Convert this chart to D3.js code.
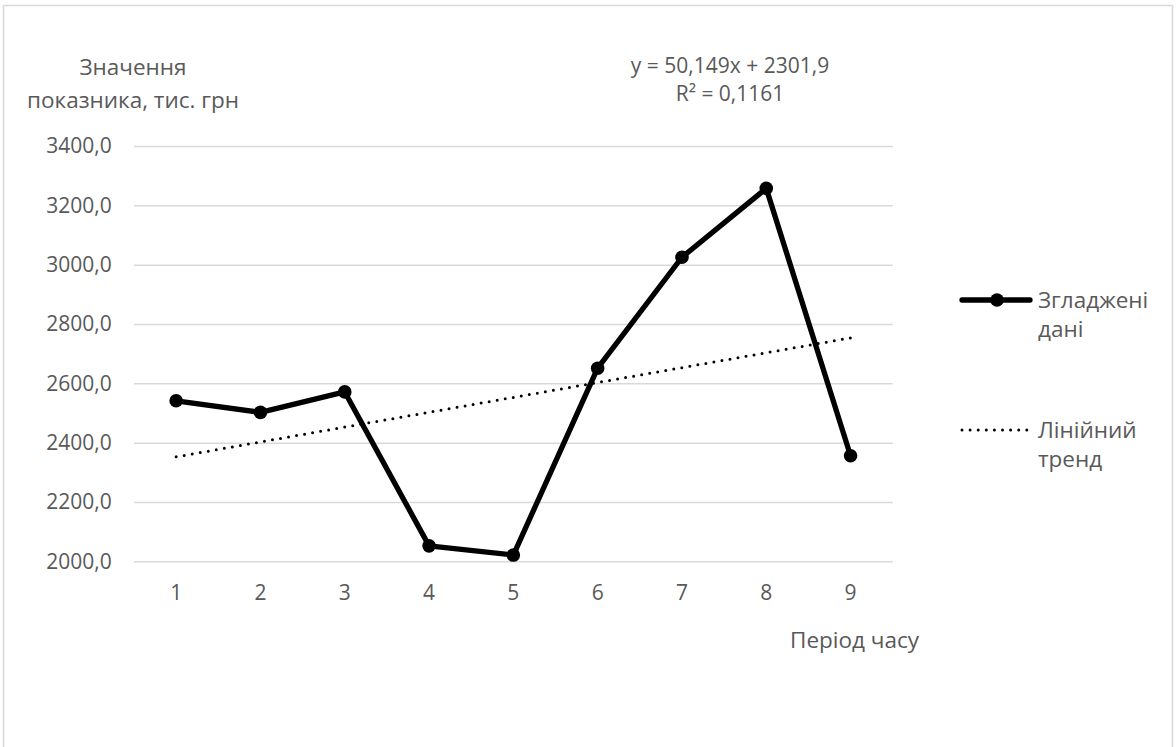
<!DOCTYPE html>
<html>
<head>
<meta charset="utf-8">
<script src="https://cdn.jsdelivr.net/npm/d3@7"></script>
<style>
  html, body { margin: 0; padding: 0; background: #fff; }
  svg text { font-family: "Open Sans", sans-serif; fill: #595959; }
</style>
</head>
<body>
<svg id="chart" width="1176" height="747"></svg>
<script>
// ---- data ----
const periods = [1, 2, 3, 4, 5, 6, 7, 8, 9];
const smoothed = [2541, 2502, 2571, 2052, 2021, 2651, 3025, 3257, 2356];
const yTicks = [2000, 2200, 2400, 2600, 2800, 3000, 3200, 3400];
const trendCoef = [50.149, 2301.9];           // slope, intercept
const trendLabel = ["y = 50,149x + 2301,9", "R² = 0,1161"];
const yTitle = ["Значення", "показника, тис. грн"];
const xTitle = "Період часу";
const legendLabels = [["Згладжені", "дані"], ["Лінійний", "тренд"]];

// ---- layout ----
const W = 1176, H = 747;
const plot = { left: 134, right: 892.7, top: 146, bottom: 561.3 };
const FS_NUM = 21;
const FS_TXT = 22.5;

const svg = d3.select("#chart");

svg.append("rect")
  .attr("x", 3.5).attr("y", 5.5).attr("width", 1169).attr("height", 780)
  .attr("fill", "#fff").attr("stroke", "#d9d9d9").attr("stroke-width", 1.5);

const x = d3.scaleBand().domain(periods).range([plot.left, plot.right]);
const xc = d => x(d) + x.bandwidth() / 2;
const y = d3.scaleLinear().domain([2000, 3400]).range([plot.bottom, plot.top]);

const fmt = v => d3.format(".1f")(v).replace(".", ",");

// gridlines + y labels via axis
const yAxis = d3.axisLeft(y).tickValues(yTicks)
  .tickSize(-(plot.right - plot.left)).tickPadding(22.3).tickFormat(fmt);
const gy = svg.append("g").attr("transform", `translate(${plot.left},0)`).call(yAxis);
gy.select(".domain").remove();
gy.selectAll(".tick line").attr("stroke", "#d9d9d9").attr("stroke-width", 1.5);
gy.selectAll(".tick text").attr("font-size", FS_NUM).attr("fill", "#595959")
  .style("font-family", '"Open Sans", sans-serif');

// x labels via axis
const xAxis = d3.axisBottom(x).tickSize(0).tickPadding(24);
const gx = svg.append("g").attr("transform", `translate(0,${plot.bottom})`).call(xAxis);
gx.select(".domain").remove();
gx.selectAll(".tick text").attr("font-size", FS_NUM).attr("fill", "#595959")
  .style("font-family", '"Open Sans", sans-serif');

// trend line
const trend = periods.map(p => ({ p, v: trendCoef[0] * p + trendCoef[1] }));
const tline = d3.line().x(d => xc(d.p)).y(d => y(d.v));
svg.append("path").datum([trend[0], trend[trend.length - 1]])
  .attr("d", tline).attr("fill", "none").attr("stroke", "#000")
  .attr("stroke-width", 3).attr("stroke-linecap", "round")
  .attr("stroke-dasharray", "0 8.15");

// data line
const data = periods.map((p, i) => ({ p, v: smoothed[i] }));
const line = d3.line().x(d => xc(d.p)).y(d => y(d.v));
svg.append("path").datum(data).attr("d", line)
  .attr("fill", "none").attr("stroke", "#000").attr("stroke-width", 5.3)
  .attr("stroke-linejoin", "round").attr("stroke-linecap", "round");
svg.selectAll("circle.pt").data(data).join("circle").attr("class", "pt")
  .attr("cx", d => xc(d.p)).attr("cy", d => y(d.v)).attr("r", 6.8).attr("fill", "#000");

// y title
svg.append("text").attr("x", 133).attr("y", 75).attr("text-anchor", "middle")
  .attr("font-size", FS_TXT).text(yTitle[0]);
svg.append("text").attr("x", 133).attr("y", 108).attr("text-anchor", "middle")
  .attr("font-size", FS_TXT).text(yTitle[1]);

// trend equation
svg.append("text").attr("x", 730).attr("y", 72.5).attr("text-anchor", "middle")
  .attr("font-size", FS_NUM).text(trendLabel[0]);
svg.append("text").attr("x", 730).attr("y", 101).attr("text-anchor", "middle")
  .attr("font-size", FS_NUM).text(trendLabel[1]);

// x title
svg.append("text").attr("x", 919).attr("y", 648).attr("text-anchor", "end")
  .attr("font-size", FS_TXT).text(xTitle);

// legend
const lg = svg.append("g");
lg.append("line").attr("x1", 962).attr("x2", 1030).attr("y1", 300).attr("y2", 300)
  .attr("stroke", "#000").attr("stroke-width", 5.3).attr("stroke-linecap", "round");
lg.append("circle").attr("cx", 997).attr("cy", 300).attr("r", 6.8).attr("fill", "#000");
lg.append("line").attr("x1", 962).attr("x2", 1027).attr("y1", 430).attr("y2", 430)
  .attr("stroke", "#000").attr("stroke-width", 3).attr("stroke-linecap", "round")
  .attr("stroke-dasharray", "0 8.1");
const legendBase = [[308, 337], [438, 467]];
legendLabels.forEach((lines, i) => {
  lines.forEach((t, j) => {
    lg.append("text").attr("x", 1038).attr("y", legendBase[i][j])
      .attr("font-size", FS_TXT).text(t);
  });
});
</script>
</body>
</html>
